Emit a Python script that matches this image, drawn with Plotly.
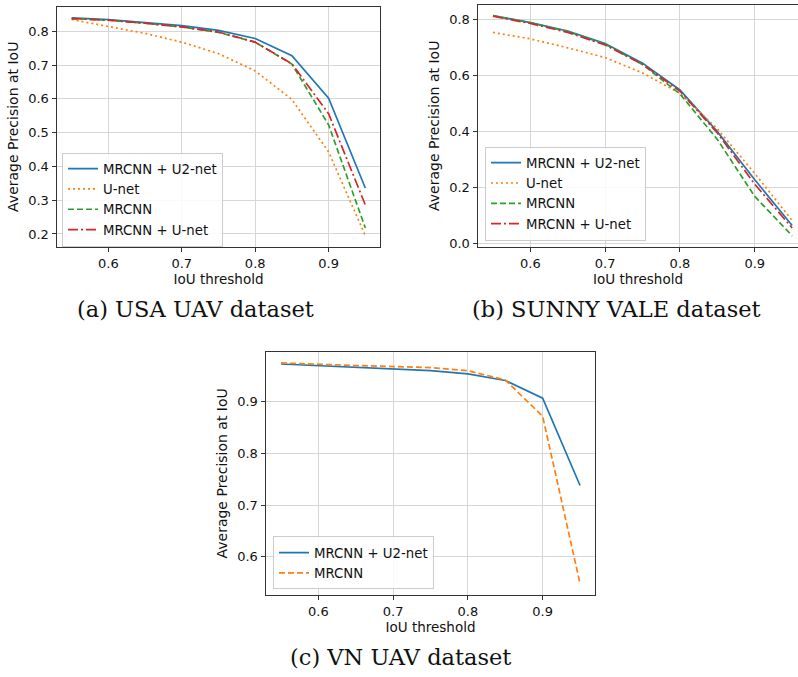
import plotly.graph_objects as go

# ---------------- data ----------------
iou = [0.55, 0.60, 0.65, 0.70, 0.75, 0.80, 0.85, 0.90, 0.95]
series_names = ["MRCNN + U2-net", "U-net", "MRCNN", "MRCNN + U-net"]

usa_u2net = [0.840, 0.835, 0.826, 0.817, 0.803, 0.779, 0.728, 0.602, 0.336]
usa_unet = [0.835, 0.815, 0.794, 0.768, 0.734, 0.683, 0.598, 0.443, 0.195]
usa_mrcnn = [0.838, 0.833, 0.824, 0.813, 0.797, 0.768, 0.703, 0.523, 0.218]
usa_mrcnn_unet = [0.838, 0.833, 0.824, 0.813, 0.798, 0.768, 0.704, 0.556, 0.286]

sv_u2net = [0.815, 0.790, 0.760, 0.715, 0.645, 0.549, 0.400, 0.228, 0.064]
sv_unet = [0.755, 0.732, 0.700, 0.665, 0.610, 0.537, 0.410, 0.250, 0.082]
sv_mrcnn = [0.815, 0.790, 0.758, 0.713, 0.640, 0.535, 0.372, 0.168, 0.027]
sv_mrcnn_unet = [0.813, 0.787, 0.755, 0.710, 0.641, 0.545, 0.395, 0.212, 0.055]

vn_names = ["MRCNN + U2-net", "MRCNN"]
vn_u2net = [0.973, 0.970, 0.967, 0.964, 0.960, 0.954, 0.941, 0.907, 0.738]
vn_mrcnn = [0.975, 0.972, 0.970, 0.968, 0.966, 0.960, 0.942, 0.872, 0.548]

captions = ["(a) USA UAV dataset", "(b) SUNNY VALE dataset", "(c) VN UAV dataset"]
x_title = "IoU threshold"
y_title = "Average Precision at IoU"

# ---------------- styling ----------------
W, H = 798, 677
colors = ["#1f77b4", "#ff7f0e", "#2ca02c", "#d62728"]
dashes = ["solid", "2px,3px", "6px,3px", "10px,3px,2px,3px"]
vn_colors = ["#1f77b4", "#ff7f0e"]
vn_dash = ["solid", "6px,3px"]
FONT = "DejaVu Sans"
LW = 1.7


def px_x(a, b):
    return [max(0.0, a / W), min(1.0, b / W)]


def px_y(top, bottom):
    return [max(0.0, 1 - bottom / H), min(1.0, 1 - top / H)]


def padded(vals):
    lo, hi = min(vals), max(vals)
    p = 0.05 * (hi - lo)
    return [lo - p, hi + p]


fig = go.Figure()

panels = [
    dict(xa="x", ya="y", legend="legend", names=series_names, cols=colors, dash=dashes,
         data=[usa_u2net, usa_unet, usa_mrcnn, usa_mrcnn_unet]),
    dict(xa="x2", ya="y2", legend="legend2", names=series_names, cols=colors, dash=dashes,
         data=[sv_u2net, sv_unet, sv_mrcnn, sv_mrcnn_unet]),
    dict(xa="x3", ya="y3", legend="legend3", names=vn_names, cols=vn_colors, dash=vn_dash,
         data=[vn_u2net, vn_mrcnn]),
]

for p in panels:
    for si, ys in enumerate(p["data"]):
        fig.add_trace(go.Scatter(
            x=iou, y=ys, mode="lines", name=p["names"][si],
            line=dict(color=p["cols"][si], width=LW, dash=p["dash"][si]),
            xaxis=p["xa"], yaxis=p["ya"], legend=p["legend"],
        ))

axis_common = dict(
    showgrid=True, gridcolor="#d6d6d6", gridwidth=1,
    showline=True, linecolor="#333333", linewidth=1,
    ticks="outside", ticklen=4.5, tickwidth=1, tickcolor="#333333",
    tickfont=dict(family=FONT, size=13, color="#111111"),
    zeroline=False, tickformat=".1f",
)

xrange_full = padded(iou)
a_yr = padded(usa_u2net + usa_unet + usa_mrcnn + usa_mrcnn_unet)
b_yr = padded(sv_u2net + sv_unet + sv_mrcnn + sv_mrcnn_unet)
c_yr = padded(vn_u2net + vn_mrcnn)
# panel (b) is cut by the right edge of the picture (748 px per IoU unit)
b_xr = [xrange_full[0], xrange_full[0] + (798 - 478) / 748]

xt_font = dict(family=FONT, size=13.5, color="#111111")
yt_font = dict(family=FONT, size=14, color="#111111")

fig.update_layout(
    width=W, height=H,
    margin=dict(l=0, r=0, t=0, b=0),
    paper_bgcolor="white", plot_bgcolor="white",
    font=dict(family=FONT, size=13, color="#111111"),
    xaxis=dict(axis_common, domain=px_x(57, 380), range=xrange_full, dtick=0.1, tick0=0.6,
               mirror=True, anchor="y",
               title=dict(text=x_title, font=xt_font, standoff=2)),
    yaxis=dict(axis_common, domain=px_y(7, 248), range=a_yr, dtick=0.1, tick0=0.2,
               mirror=True, anchor="x",
               title=dict(text=y_title, font=yt_font, standoff=6)),
    xaxis2=dict(axis_common, domain=px_x(478, 798), range=b_xr, dtick=0.1, tick0=0.6,
                mirror=True, anchor="y2",
                title=dict(text=x_title, font=xt_font, standoff=2)),
    yaxis2=dict(axis_common, domain=px_y(4.7, 248.3), range=b_yr, dtick=0.2, tick0=0.0,
                mirror=False, anchor="x2",
                title=dict(text=y_title, font=yt_font, standoff=6)),
    xaxis3=dict(axis_common, domain=px_x(266, 595), range=xrange_full, dtick=0.1, tick0=0.6,
                mirror=True, anchor="y3",
                title=dict(text=x_title, font=xt_font, standoff=2)),
    yaxis3=dict(axis_common, domain=px_y(354, 598.3), range=c_yr, dtick=0.1, tick0=0.6,
                mirror=True, anchor="x3",
                title=dict(text=y_title, font=yt_font, standoff=6)),
)

legend_common = dict(
    bgcolor="rgba(255,255,255,0.85)", bordercolor="#cccccc", borderwidth=1,
    font=dict(family=FONT, size=13.3, color="#111111"),
    xanchor="left", yanchor="bottom", itemwidth=30, tracegroupgap=0,
)
fig.update_layout(
    showlegend=True,
    legend=dict(legend_common, x=62 / W, y=1 - 248 / H),
    legend2=dict(legend_common, x=485 / W, y=1 - 242 / H),
    legend3=dict(legend_common, x=273 / W, y=1 - 593 / H),
)

cap_font = dict(family="DejaVu Serif", size=22.5, color="#111111")
cap_pos = [(195, 311), (616, 311), (400, 661)]
for text, (cx, cy) in zip(captions, cap_pos):
    fig.add_annotation(text=text, x=cx / W, y=1 - cy / H,
                       xref="paper", yref="paper",
                       xanchor="center", yanchor="middle", showarrow=False, font=cap_font)

# remove the browser's default 8px body margin so the figure sits at the page origin
fig.write_html("out.html",
               config={"displayModeBar": False},
               post_script="document.body.style.margin='0';document.body.style.overflow='hidden';")
